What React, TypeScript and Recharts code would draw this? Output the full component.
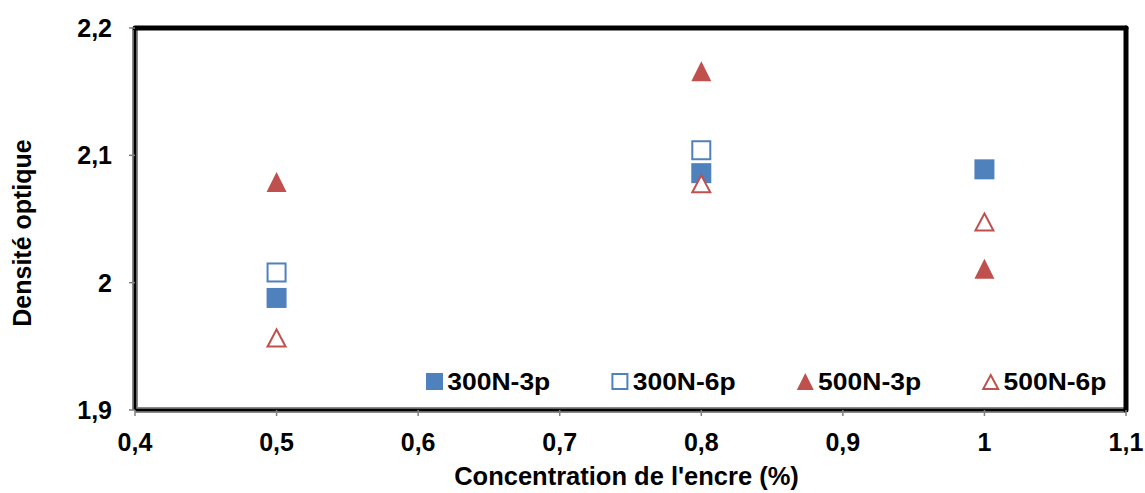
import React from "react";
import {
  ScatterChart,
  Scatter,
  XAxis,
  YAxis,
  ReferenceLine,
  Legend,
} from "recharts";

// valeurs
const concentrations = [0.5, 0.8, 1.0];
const serie300N3p = [1.988, 2.086, 2.089];
const serie300N6p = [2.008, 2.104];
const serie500N3p = [2.079, 2.166, 2.011];
const serie500N6p = [1.957, 2.078, 2.048];

const xTicks = [0.4, 0.5, 0.6, 0.7, 0.8, 0.9, 1.0, 1.1];
const yTicks = [1.9, 2.0, 2.1, 2.2];

const BLUE = "#4F81BD";
const RED = "#C0504D";
const FONT = "'Liberation Sans', Arial, sans-serif";

type Kind = "square" | "triangle";

const series = [
  { name: "300N-3p", values: serie300N3p, kind: "square" as Kind, filled: true, color: BLUE },
  { name: "300N-6p", values: serie300N6p, kind: "square" as Kind, filled: false, color: BLUE },
  { name: "500N-3p", values: serie500N3p, kind: "triangle" as Kind, filled: true, color: RED },
  { name: "500N-6p", values: serie500N6p, kind: "triangle" as Kind, filled: false, color: RED },
];

const comma = (v: number) => String(v).replace(".", ",");

function Marker({
  cx,
  cy,
  kind,
  filled,
  color,
  w = 20,
  h = 20,
}: {
  cx: number;
  cy: number;
  kind: Kind;
  filled: boolean;
  color: string;
  w?: number;
  h?: number;
}) {
  const sw = filled ? 0 : 2;
  if (kind === "square") {
    return (
      <rect
        x={cx - w / 2 + sw / 2}
        y={cy - h / 2 + sw / 2}
        width={w - sw}
        height={h - sw}
        fill={filled ? color : "#fff"}
        stroke={color}
        strokeWidth={sw}
      />
    );
  }
  const pts = `${cx},${cy - h / 2 + sw} ${cx + w / 2 - sw / 2},${cy + h / 2 - sw / 2} ${
    cx - w / 2 + sw / 2
  },${cy + h / 2 - sw / 2}`;
  return (
    <polygon
      points={pts}
      fill={filled ? color : "#fff"}
      stroke={color}
      strokeWidth={sw}
      strokeLinejoin="miter"
    />
  );
}

function LegendBox() {
  return (
    <svg width={720} height={40} style={{ display: "block" }}>
      {series.map((s, i) => {
        const x0 = 11 + i * 185.4;
        return (
          <g key={s.name}>
            <Marker
              cx={x0 + 8.5}
              cy={21.5}
              kind={s.kind}
              filled={s.filled}
              color={s.color}
              w={17}
              h={17}
            />
            <text
              x={x0 + 21.3}
              y={30}
              fontSize={24.5}
              fontWeight="bold"
              fontFamily={FONT}
              fill="#000"
              textLength={103}
              lengthAdjust="spacingAndGlyphs"
            >
              {s.name}
            </text>
          </g>
        );
      })}
    </svg>
  );
}

const tickStyle = {
  fill: "#000",
  fontSize: 25,
  fontWeight: "bold" as const,
  fontFamily: FONT,
};

export default function App() {
  return (
    <div style={{ position: "absolute", left: 0, top: 0, background: "#fff" }}>
      <ScatterChart
        width={1145}
        height={493}
        margin={{ top: 28, right: 19, bottom: 0, left: 0 }}
      >
        {/* cadre : bords gris sous les axes, haut et droite en noir */}
        <ReferenceLine x={0.4} stroke="#8a8a8a" strokeWidth={6} />
        <ReferenceLine y={1.9} stroke="#8a8a8a" strokeWidth={6} />
        <ReferenceLine
          y={2.2}
          stroke="#000"
          strokeWidth={5}
          strokeLinecap="round"
        />
        <ReferenceLine
          x={1.1}
          stroke="#000"
          strokeWidth={5}
          strokeLinecap="round"
        />
        <XAxis
          type="number"
          dataKey="x"
          domain={[0.4, 1.1]}
          ticks={xTicks}
          tickFormatter={comma}
          allowDataOverflow
          height={83}
          tickSize={6}
          tickMargin={17}
          tick={tickStyle}
          tickLine={{ stroke: "#808080", strokeWidth: 1.5 }}
          axisLine={{ stroke: "#000", strokeWidth: 2.5 }}
          label={(props: any) => {
            const vb = props.viewBox;
            return (
              <text
                x={vb.x + vb.width / 2 - 4}
                y={vb.y + 75}
                textAnchor="middle"
                fontSize={25.5}
                fontWeight="bold"
                fontFamily={FONT}
                fill="#000"
              >
                Concentration de l'encre (%)
              </text>
            );
          }}
        />
        <YAxis
          type="number"
          dataKey="y"
          domain={[1.9, 2.2]}
          ticks={yTicks}
          tickFormatter={comma}
          allowDataOverflow
          width={135}
          tickSize={6}
          tickMargin={17}
          tick={tickStyle}
          tickLine={{ stroke: "#808080", strokeWidth: 1.5 }}
          axisLine={{ stroke: "#000", strokeWidth: 2.5 }}
          label={(props: any) => {
            const vb = props.viewBox;
            const cx = vb.x + 31;
            const cy = vb.y + vb.height / 2 + 14;
            return (
              <text
                x={cx}
                y={cy}
                transform={`rotate(-90 ${cx} ${cy})`}
                textAnchor="middle"
                fontSize={25}
                fontWeight="bold"
                fontFamily={FONT}
                fill="#000"
              >
                Densité optique
              </text>
            );
          }}
        />
        <Legend
          layout="vertical"
          align="center"
          verticalAlign="middle"
          content={() => <LegendBox />}
          wrapperStyle={{ position: "absolute", left: 415, top: 360, width: 720 }}
        />
        {series.map((s) => (
          <Scatter
            key={s.name}
            name={s.name}
            data={s.values.map((v, i) => ({ x: concentrations[i], y: v }))}
            isAnimationActive={false}
            shape={(p: any) => (
              <Marker
                cx={p.cx}
                cy={p.cy}
                kind={s.kind}
                filled={s.filled}
                color={s.color}
              />
            )}
          />
        ))}
      </ScatterChart>
    </div>
  );
}
